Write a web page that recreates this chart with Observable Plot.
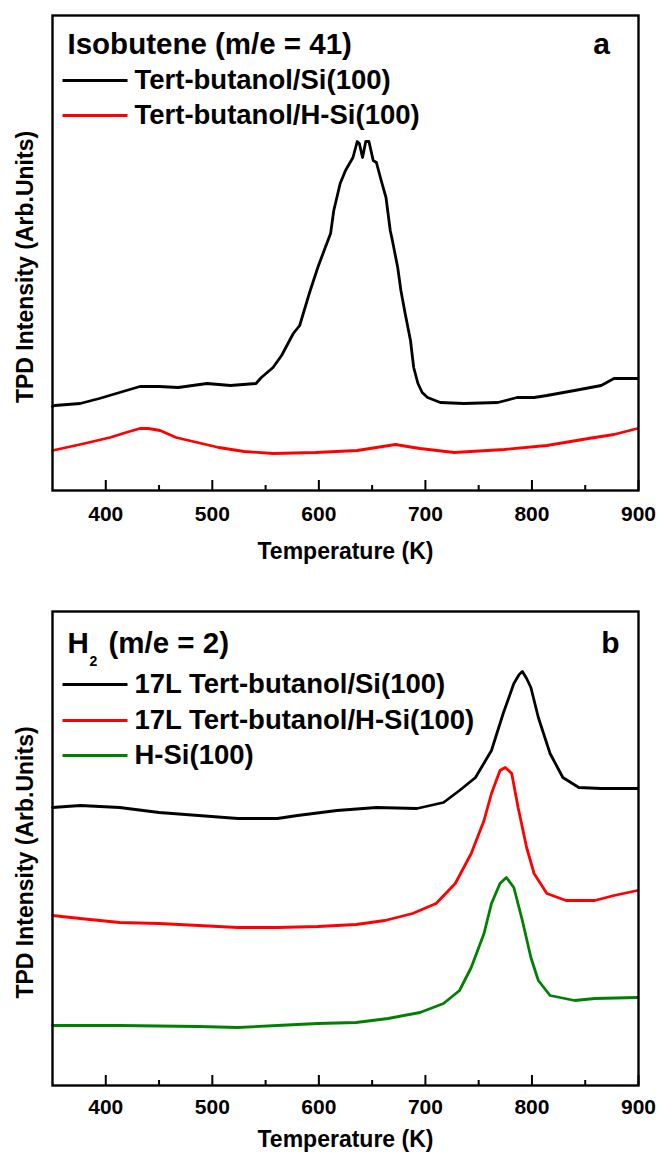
<!DOCTYPE html>
<html><head><meta charset="utf-8">
<script src="https://cdn.jsdelivr.net/npm/d3@7"></script>
<script src="https://cdn.jsdelivr.net/npm/@observablehq/plot@0.6"></script>
<style>
body{margin:0;background:#fff;}
#chart svg{display:block;}
</style></head><body><div id="chart"></div>
<script>
// ---------- data ----------
const majorTicks = [400, 500, 600, 700, 800, 900];
const minorTicks = [450, 550, 650, 750, 850];
const tempDomain = [350, 900];

// Panel a: Isobutene (m/e = 41), [temperature K, intensity arb. units]
const isoSi = [[350,84],[352,85],[376,87],[394,92],[413,98],[432,104],[450,104],[468,103],[495,107],[517,105],[541,107],[546,113],[557,123],[565,135],[576,157],[582,165],[591,197],[599,223],[606,243],[611,257],[614,280],[620,307],[625,320],[632,333],[636,349],[638,347],[641,333],[644,349],[647,349],[651,330],[654,328],[658,312],[663,293],[667,260],[669,250],[674,223],[677,200],[681,177],[686,150],[689,123],[693,107],[697,98],[702,93],[714,88],[736,87],[768,88],[786,93],[802,93],[814,95],[840,100],[865,105],[877,112],[899,112]];
const isoHSi = [[350,40],[380,47],[404,53],[419,58],[432,62],[440,62],[451,60],[466,53],[486,48],[506,43],[530,39],[557,37],[597,38],[636,40],[660,44],[672,46],[683,44],[695,42],[727,38],[774,41],[814,45],[853,52],[877,56],[899,62]];

// Panel b: H2 (m/e = 2)
const h2Si = [[350,278],[376,280],[413,278],[450,273],[487,270],[524,267],[561,267],[580,270],[617,275],[654,278],[692,277],[717,283],[732,295],[747,308],[762,335],[773,372],[783,402],[788,411],[791,414],[795,407],[799,398],[806,368],[817,332],[829,308],[844,298],[865,297],[899,297]];
const h2HSi = [[350,170],[376,167],[413,163],[450,162],[487,160],[524,158],[561,158],[599,159],[635,161],[662,165],[688,172],[710,182],[728,202],[743,232],[755,265],[762,292],[770,315],[775,318],[781,312],[787,278],[795,238],[802,212],[814,192],[832,185],[859,185],[877,190],[899,195]];
const hSi = [[350,60],[413,60],[487,59],[524,58],[561,60],[599,62],[635,63],[665,67],[695,73],[717,82],[732,95],[743,118],[755,152],[762,182],[770,202],[776,208],[783,198],[791,165],[799,128],[806,105],[817,90],[840,85],[859,87],[899,88]];

const labelsA = ["Tert-butanol/Si(100)", "Tert-butanol/H-Si(100)"];
const colorsA = ["#000000", "#ff0000"];
const labelsB = ["17L Tert-butanol/Si(100)", "17L Tert-butanol/H-Si(100)", "H-Si(100)"];
const colorsB = ["#000000", "#ff0000", "#008000"];

const yTitle = "TPD Intensity (Arb.Units)";
const xTitle = "Temperature (K)";

// ---------- drawing ----------
const FONT = '"Liberation Sans", Arial, Helvetica, sans-serif';
const W = 659, ML = 52, MR = 21;
const innerW = W - ML - MR;

function panel(cfg) {
  const H = cfg.height - cfg.marginTop - cfg.marginBottom;
  const marks = [];
  cfg.series.forEach((s, i) => {
    marks.push(Plot.line(s, {x: d => d[0], y: d => d[1], stroke: cfg.colors[i], strokeWidth: 2.8, strokeLinejoin: "round"}));
  });
  marks.push(Plot.frame({stroke: "#000", strokeWidth: 2.4}));
  marks.push(Plot.tickX(majorTicks, {x: d => d, insetTop: H - 10, stroke: "#000", strokeWidth: 2}));
  marks.push(Plot.tickX(minorTicks, {x: d => d, insetTop: H - 5, stroke: "#000", strokeWidth: 2}));
  marks.push(Plot.axisX({ticks: majorTicks, tickSize: 0, tickPadding: cfg.tickPad, fontSize: 21, fontWeight: "bold", fontFamily: FONT, label: null, tickFormat: d => String(d)}));
  marks.push(Plot.text([xTitle], {text: d => d, frameAnchor: "bottom", dy: cfg.xTitleDy, lineAnchor: "middle", fontSize: 23, fontWeight: "bold", fontFamily: FONT, fill: "#000"}));
  marks.push(Plot.text([yTitle], {text: d => d, frameAnchor: "left", dx: -27, dy: cfg.yTitleDy, rotate: -90, lineAnchor: "middle", textAnchor: "middle", fontSize: 23, fontWeight: "bold", fontFamily: FONT, fill: "#000"}));
  // title
  cfg.titleParts.forEach(p => {
    marks.push(Plot.text([p.t], {text: d => d, frameAnchor: "top-left", dx: p.dx, dy: cfg.titleBase + (p.dy || 0), textAnchor: "start", lineAnchor: "bottom", fontSize: p.size, fontWeight: "bold", fontFamily: FONT, fill: "#000"}));
  });
  marks.push(Plot.text([cfg.letter], {text: d => d, frameAnchor: "top-right", dx: cfg.letterDx, dy: cfg.titleBase, textAnchor: "middle", lineAnchor: "bottom", fontSize: 30, fontWeight: "bold", fontFamily: FONT, fill: "#000"}));
  // legend
  cfg.labels.forEach((lab, i) => {
    const o = cfg.legendY[i];
    marks.push(Plot.frame({fill: cfg.colors[i], stroke: "none", insetLeft: 10, insetRight: innerW - 75, insetTop: o - 1.5, insetBottom: H - o - 1.5}));
    marks.push(Plot.text([lab], {text: d => d, frameAnchor: "top-left", dx: 82, dy: o, textAnchor: "start", lineAnchor: "middle", fontSize: 27.5, fontWeight: "bold", fontFamily: FONT, fill: "#000"}));
  });
  return Plot.plot({
    width: W, height: cfg.height,
    marginLeft: ML, marginRight: MR, marginTop: cfg.marginTop, marginBottom: cfg.marginBottom,
    style: {fontFamily: FONT, background: "#fff", color: "#000", overflow: "visible"},
    x: {domain: tempDomain, axis: null},
    y: {domain: cfg.yDomain, axis: null},
    marks
  });
}

const chart = document.getElementById("chart");
chart.append(panel({
  height: 576, marginTop: 15, marginBottom: 86, yDomain: [0, 475],
  series: [isoSi, isoHSi], colors: colorsA, labels: labelsA,
  legendY: [65, 100], titleBase: 38, letter: "a", letterDx: -37,
  titleParts: [{t: "Isobutene (m/e = 41)", dx: 15, size: 29.5}],
  tickPad: 16, xTitleDy: 61, yTitleDy: 14
}));
chart.append(panel({
  height: 576, marginTop: 35, marginBottom: 67, yDomain: [0, 474],
  series: [h2Si, h2HSi, hSi], colors: colorsB, labels: labelsB,
  legendY: [73, 109, 144], titleBase: 41, letter: "b", letterDx: -28,
  titleParts: [{t: "H", dx: 15, size: 29.5}, {t: "2", dx: 37, dy: 13, size: 14}, {t: "(m/e = 2)", dx: 56, size: 29.5}],
  tickPad: 14, xTitleDy: 54, yTitleDy: 14
}));
</script></body></html>
